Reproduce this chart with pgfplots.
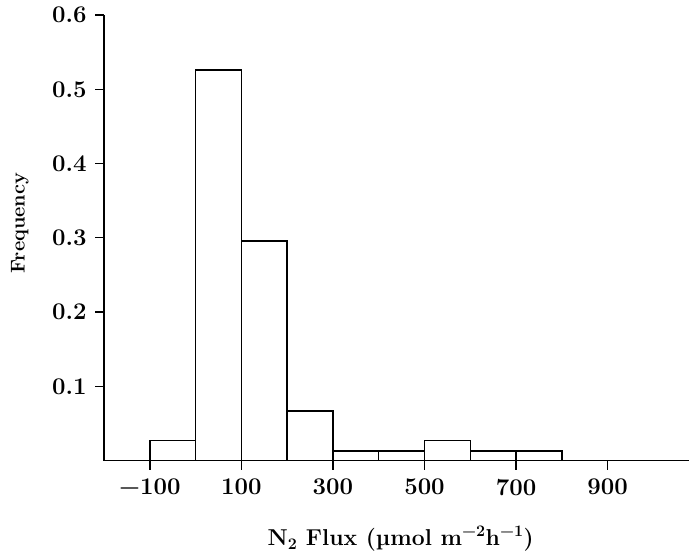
\documentclass[border=0pt]{standalone}
\usepackage{fontspec}
\setmainfont{Latin Modern Roman}
\usepackage{pgfplots}
\pgfplotsset{compat=1.18}
\begin{document}
\begin{tikzpicture}
\begin{axis}[
  scale only axis, width=584bp, height=445bp,
  xmin=-200, xmax=1078, ymin=0, ymax=0.6,
  axis x line*=bottom, axis y line*=left,
  axis line style={-, line width=1.5bp},
  xtick={-100,100,300,500,700,900},
  xticklabels={−100,100,300,500,700,900},
  ytick={0.1,0.2,0.3,0.4,0.5,0.6},
  yticklabels={0.1,0.2,0.3,0.4,0.5,0.6},
  tick align=outside, major tick length=9bp,
  tick style={line width=1.3bp, black},
  tick label style={font=\fontsize{24}{28}\selectfont\bfseries},
  xticklabel shift=6bp,
  yticklabel shift=5bp,
  xlabel={\fontsize{23}{27}\selectfont\bfseries N\textsubscript{2} Flux (µmol m\textsuperscript{−2}h\textsuperscript{−1})},
  ylabel={\fontsize{20}{24}\selectfont\bfseries Frequency},
  xlabel style={at={(axis description cs:0.507,-0.175)}, anchor=center},
  ylabel style={at={(axis description cs:-0.144,0.533)}, anchor=center},
  clip=false,
]
\addplot[ybar interval, fill=white, draw=black, line width=1.5bp] coordinates {
  (-100,0.027) (0,0.526) (100,0.296) (200,0.067) (300,0.013)
  (400,0.013) (500,0.027) (600,0.013) (700,0.013) (800,0.013)
};
\coordinate (sw) at (rel axis cs:0,0);
\coordinate (ne) at (rel axis cs:1,1);
\end{axis}
\pgfresetboundingbox
\path[use as bounding box] ([shift={(-104bp,-99bp)}]sw) rectangle ([shift={(0bp,15bp)}]ne);
\end{tikzpicture}
\end{document}
